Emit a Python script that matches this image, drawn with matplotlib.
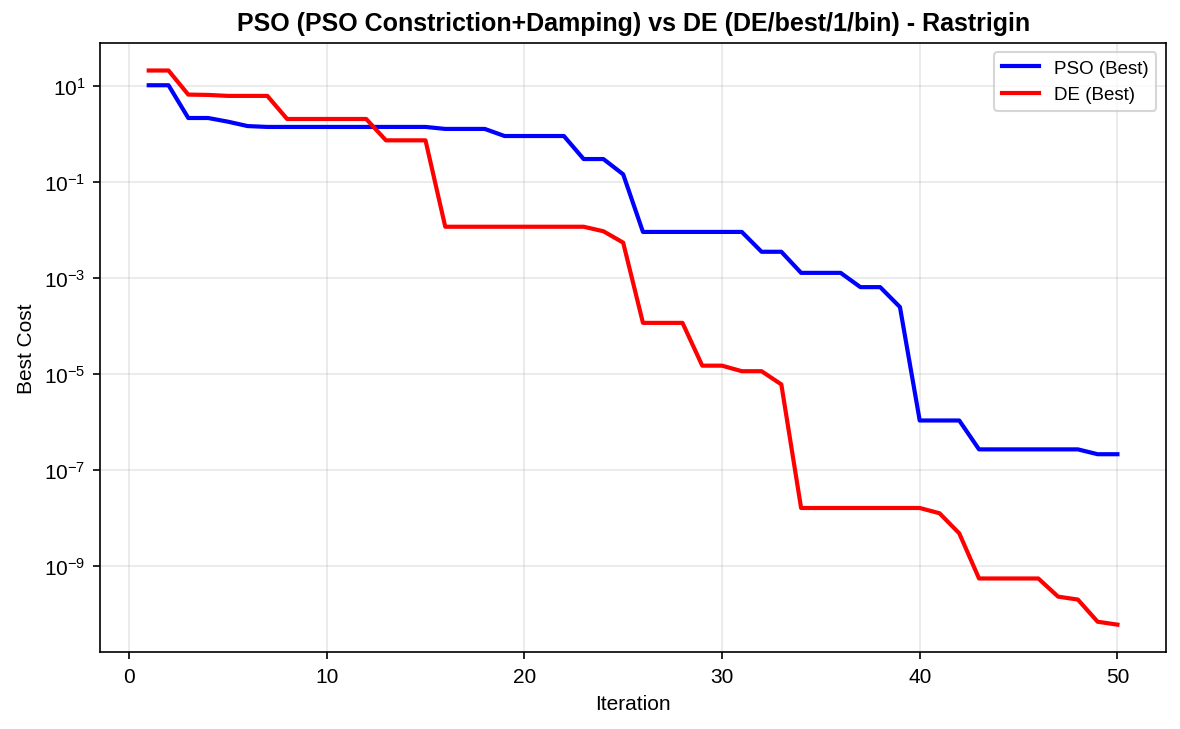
import numpy as np
import matplotlib
matplotlib.use("Agg")
from matplotlib import pyplot as plt

plt.rcParams['font.family'] = ['Liberation Sans', 'DejaVu Sans']

iterations = np.arange(1, 51)

# best cost per iteration
pso_best = [10.5, 10.5, 2.18, 2.18, 1.83, 1.48, 1.42, 1.42, 1.42, 1.42,
            1.42, 1.42, 1.42, 1.42, 1.42, 1.29, 1.29, 1.29, 0.918, 0.918,
            0.918, 0.918, 0.304, 0.304, 0.146, 0.0092, 0.0092, 0.0092, 0.0092, 0.0092,
            0.0092, 0.00355, 0.00355, 1.29e-3, 1.29e-3, 1.29e-3, 6.5e-4, 6.5e-4, 2.5e-4, 1.08e-6,
            1.08e-6, 1.08e-6, 2.7e-7, 2.7e-7, 2.7e-7, 2.7e-7, 2.7e-7, 2.7e-7, 2.14e-7, 2.14e-7]
de_best = [21.3, 21.3, 6.7, 6.6, 6.3, 6.3, 6.3, 2.08, 2.08, 2.08,
           2.08, 2.08, 0.746, 0.746, 0.746, 0.0118, 0.0118, 0.0118, 0.0118, 0.0118,
           0.0118, 0.0118, 0.0118, 0.0095, 0.0055, 1.17e-4, 1.17e-4, 1.17e-4, 1.5e-5, 1.5e-5,
           1.15e-5, 1.15e-5, 6.1e-6, 1.62e-8, 1.62e-8, 1.62e-8, 1.62e-8, 1.62e-8, 1.62e-8, 1.62e-8,
           1.26e-8, 4.8e-9, 5.5e-10, 5.5e-10, 5.5e-10, 5.5e-10, 2.3e-10, 2.0e-10, 6.9e-11, 6.0e-11]

fig, ax = plt.subplots(figsize=(1180/150, 730/150), dpi=150)
ax.plot(iterations, pso_best, color='blue', lw=2, label='PSO (Best)')
ax.plot(iterations, de_best, color='red', lw=2, label='DE (Best)')
ax.set_yscale('log')
ax.set_xlabel('Iteration')
ax.set_ylabel('Best Cost')
ax.set_title('PSO (PSO Constriction+Damping) vs DE (DE/best/1/bin) - Rastrigin', fontweight='bold')
ax.grid(True, alpha=0.3)
ax.legend(fontsize=9)
plt.subplots_adjust(left=0.085, right=0.988, top=0.94, bottom=0.105)
plt.savefig('out.png', dpi=150)
